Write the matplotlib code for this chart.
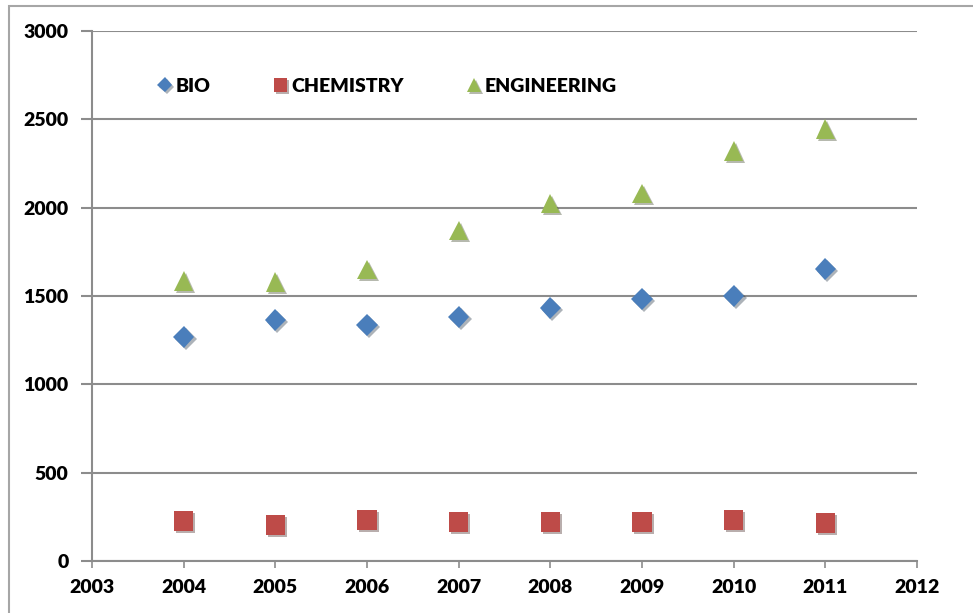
import numpy as np
import matplotlib.pyplot as plt
import matplotlib.patheffects as pe
from matplotlib.patches import Rectangle

years = [2004, 2005, 2006, 2007, 2008, 2009, 2010, 2011]
bio = [1268, 1364, 1336, 1381, 1432, 1483, 1500, 1653]
chemistry = [226, 204, 232, 221, 221, 221, 232, 215]
engineering = [1585, 1580, 1650, 1870, 2025, 2080, 2320, 2445]

plt.rcParams['font.family'] = ['Lato', 'DejaVu Sans']

fig = plt.figure(figsize=(9.73, 6.13), dpi=100)
ax = fig.add_axes([92 / 973, 1 - 561 / 613, 825 / 973, 530 / 613])

# chart border
fig.patches.append(Rectangle((9 / 973, -0.1), 1.1, 1 - 6 / 613 + 0.1,
                             transform=fig.transFigure, fill=False,
                             edgecolor='#a6a6a6', linewidth=1.5))

shadow = [pe.SimplePatchShadow(offset=(1.5, -1.5), alpha=0.35), pe.Normal()]

ax.plot(years, bio, linestyle='none', marker='D', markersize=11,
        color='#4a7ebb', markeredgewidth=0, label='BIO', path_effects=shadow)
ax.plot(years, chemistry, linestyle='none', marker='s', markersize=14,
        color='#be4b48', markeredgewidth=0, label='CHEMISTRY', path_effects=shadow)
ax.plot(years, engineering, linestyle='none', marker='^', markersize=14,
        color='#98b954', markeredgewidth=0, label='ENGINEERING', path_effects=shadow)

ax.set_xlim(2003, 2012)
ax.set_ylim(0, 3000)
ax.set_xticks(range(2003, 2013))
ax.set_yticks(range(0, 3001, 500))

ax.grid(axis='y', color='#8c8c8c', linewidth=1.5)
ax.set_axisbelow(True)
for side in ['top', 'right']:
    ax.spines[side].set_visible(False)
for side in ['left', 'bottom']:
    ax.spines[side].set_color('#8c8c8c')
    ax.spines[side].set_linewidth(1.5)

ax.tick_params(axis='y', direction='out', length=8, width=1.5, color='#8c8c8c',
               pad=9, labelsize=14)
ax.tick_params(axis='x', direction='out', length=5, width=1.2, color='#8c8c8c',
               pad=8, labelsize=14)
for lbl in ax.get_xticklabels() + ax.get_yticklabels():
    lbl.set_fontweight('heavy')

leg = ax.legend(loc='upper left', bbox_to_anchor=(0.06, 0.945), ncol=3,
                frameon=False, markerscale=0.7, handlelength=0.6,
                handletextpad=0.25, columnspacing=3.3, fontsize=14)
for t in leg.get_texts():
    t.set_fontweight('heavy')

plt.savefig('out.png')
plt.close()
